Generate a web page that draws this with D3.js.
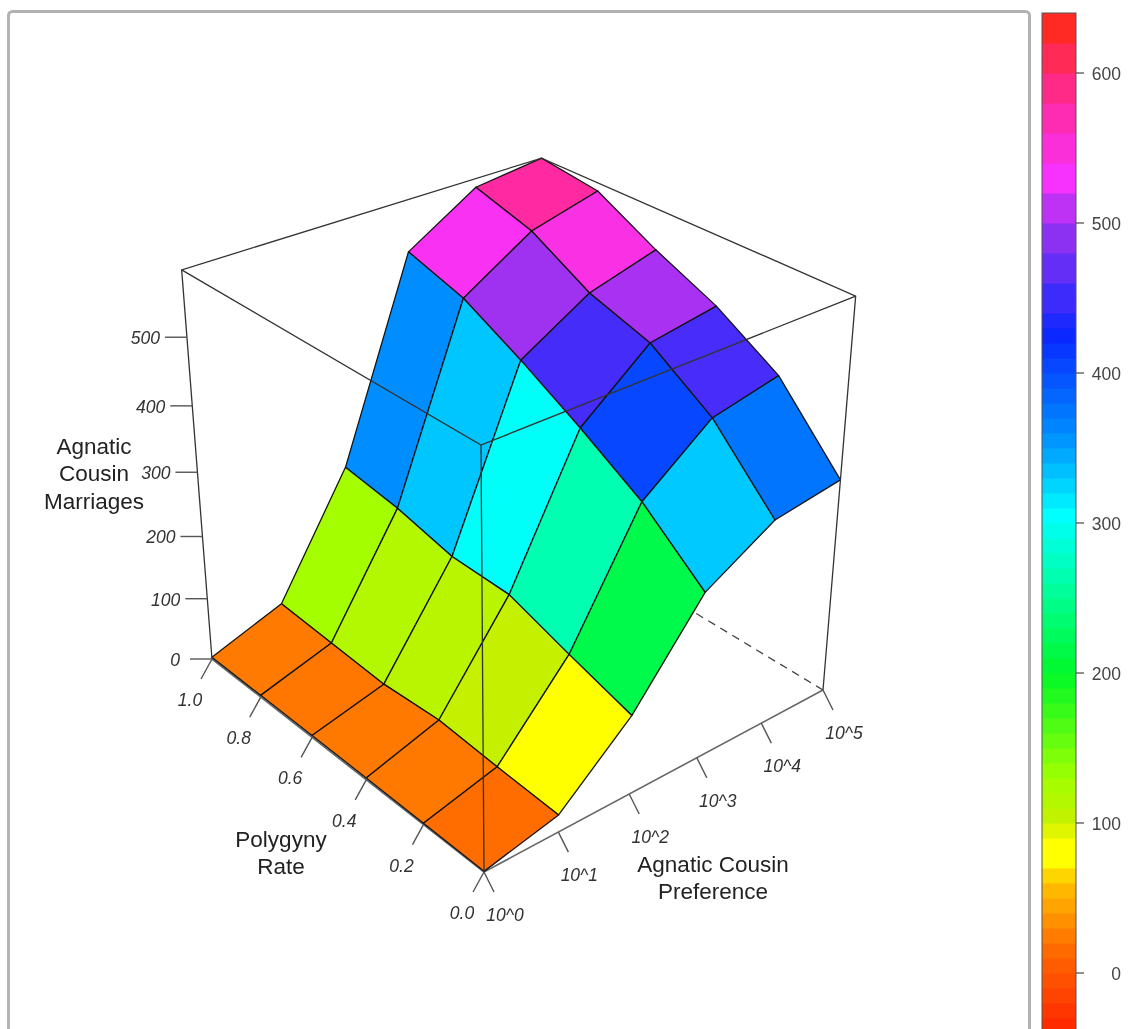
<!DOCTYPE html>
<html><head><meta charset="utf-8">
<script src="https://cdn.jsdelivr.net/npm/d3@7"></script>
<style>html,body{margin:0;padding:0;background:#fff;overflow:hidden}svg{display:block;font-family:"Liberation Sans",Arial,sans-serif;filter:blur(0.4px)}</style>
</head><body><svg id="c" width="1128" height="1029"></svg>
<script>
// ---- data ----
const preferenceLabels = ["10^0","10^1","10^2","10^3","10^4","10^5"];
const polygynyLabels = ["0.0","0.2","0.4","0.6","0.8","1.0"];
const marriageTicks = [0,100,200,300,400,500];
const colorbarTicks = [0,100,200,300,400,500,600];
// Agnatic cousin marriages at polygyny 0.0, 0.2 ... 1.0, per preference level
const marriagesPref0 = [1,2,3,3,3,3];
const marriagesPref1 = [27,32,39,32,37,42];
const marriagesPref2 = [123,153,185,187,208,221];
const marriagesPref3 = [257,335,392,444,491,518];
const marriagesPref4 = [317,415,477,506,556,582];
const marriagesPref5 = [332,437,494,535,583,595];
const marriages = [marriagesPref0,marriagesPref1,marriagesPref2,marriagesPref3,marriagesPref4,marriagesPref5];
const colorStops = [-40,0,10,15,19,25,40,60,75,88,100,130,200,250,305,360,425,500,530,580,640];
const colorValues = ["#ff2400","#ff5500","#ff6000","#ff6a00","#ff7800","#ff7c00","#ff9a00","#ffc000","#ffff00","#ffff00","#c8f000","#a0ff00","#00f828","#00ff90","#00ffff","#008cff","#0a28ff","#a032f0","#f732ff","#ff2aa0","#ff2a0a"];

// ---- scales ----
const svg = d3.select("#c");
const uScale = d3.scalePoint().domain(d3.range(6)).range([0,1]);
const vScale = d3.scalePoint().domain(d3.range(6)).range([0,1]);
const zScale = d3.scaleLinear().domain([0,595]).range([0,1]);
const rawColor = d3.scaleLinear().domain(colorStops).range(colorValues).interpolate(d3.interpolateRgb);
const keyStep = 10;
const keyColor = v => v >= 440 ? rawColor(Math.floor(v/20)*20 + 10) : rawColor(v + keyStep/2);

// perspective camera: homography of the unit box
const O = [484,872], EX = [823,690], EY = [212,659], EZ = [481,445];
const wx = 1.124, wy = 1.145, wz = 0.894;
const cam = {
  o:[O[0],O[1],1],
  x:[wx*EX[0]-O[0], wx*EX[1]-O[1], wx-1],
  y:[wy*EY[0]-O[0], wy*EY[1]-O[1], wy-1],
  z:[wz*EZ[0]-O[0], wz*EZ[1]-O[1], wz-1]
};
function project(u,v,w){
  const h = [0,1,2].map(k => cam.o[k]+u*cam.x[k]+v*cam.y[k]+w*cam.z[k]);
  return [h[0]/h[2], h[1]/h[2]];
}
const pt = (i,j) => project(uScale(i), vScale(j), zScale(marriages[i][j]));
const line = d3.line();

// ---- frame ----
svg.append("rect").attr("x",8.5).attr("y",11.5).attr("width",1021).attr("height",1060).attr("rx",4)
  .attr("fill","#fff").attr("stroke","#b2b2b2").attr("stroke-width",3);

// ---- hidden box edges ----
const boxG = svg.append("g").attr("fill","none").attr("stroke","#444").attr("stroke-width",1.3);
boxG.append("path").attr("d",line([project(1,0,0),project(1,1,0)])).attr("stroke-dasharray","8,6");
boxG.append("path").attr("d",line([project(0,1,0),project(1,1,0)])).attr("stroke-dasharray","8,6");
boxG.append("path").attr("d",line([project(1,1,0),project(1,1,1)])).attr("stroke-dasharray","8,6");

// ---- front base edges, drawn under the surface ----
const baseG = svg.append("g").attr("fill","none").attr("stroke","#666").attr("stroke-width",1.6);
baseG.append("path").attr("d",line([project(0,1,0),project(0,0,0),project(1,0,0)]));

// ---- surface, painted back to front ----
const cells = [];
for(let i=0;i<5;i++) for(let j=0;j<5;j++) cells.push({i,j,
  mean:d3.mean([marriages[i][j],marriages[i+1][j],marriages[i][j+1],marriages[i+1][j+1]])});
cells.sort((a,b)=>(b.i+b.j)-(a.i+a.j));
svg.append("g").selectAll("path").data(cells).join("path")
  .attr("d",c=>line([pt(c.i,c.j),pt(c.i+1,c.j),pt(c.i+1,c.j+1),pt(c.i,c.j+1)])+"Z")
  .attr("fill",c=>rawColor(c.mean))
  .attr("stroke","#141414").attr("stroke-width",1.3).attr("stroke-linejoin","round");

// ---- box edges in front of surface ----
const frontG = svg.append("g").attr("fill","none").attr("stroke","#333").attr("stroke-width",1.3);
frontG.append("path").attr("d",line([project(0,1,0),project(0,1,1),project(1,1,1),project(1,0,1),project(1,0,0)]));
frontG.append("path").attr("d",line([project(0,1,1),project(0,0,1),project(1,0,1)]));
frontG.append("path").attr("d",line([project(0,0,1),project(0,0,0)]));

// ---- axes ----
const tickFont = {size:17.5, fill:"#333"};
const axisG = svg.append("g");
function tickMark(a,dx,dy){
  axisG.append("line").attr("x1",a[0]).attr("y1",a[1]).attr("x2",a[0]+dx).attr("y2",a[1]+dy)
    .attr("stroke","#555").attr("stroke-width",1.4);
}
function tickText(x,y,s,anchor){
  axisG.append("text").attr("x",x).attr("y",y).attr("text-anchor",anchor).attr("dominant-baseline","central")
    .attr("font-size",tickFont.size).attr("font-style","italic").attr("fill",tickFont.fill).text(s);
}
polygynyLabels.forEach((s,j)=>{
  const a = project(0,vScale(j),0);
  tickMark(a,-11,20);
  tickText(a[0]-22,a[1]+41,s,"middle");
});
preferenceLabels.forEach((s,i)=>{
  const a = project(uScale(i),0,0);
  tickMark(a,10,20);
  tickText(a[0]+21,a[1]+43,s,"middle");
});
marriageTicks.forEach(t=>{
  const a = project(0,1,zScale(t));
  tickMark(a,-22,0);
  tickText(a[0]-(t===0?32:27),a[1]+1,String(t),"end");
});

// ---- axis titles ----
function title(x,y,lines){
  lines.forEach((s,k)=>svg.append("text").attr("x",x).attr("y",y+k*27.5).attr("text-anchor","middle")
    .attr("dominant-baseline","central").attr("font-size",22.5).attr("fill","#222").text(s));
}
title(94,446,["Agnatic","Cousin","Marriages"]);
title(281,839,["Polygyny","Rate"]);
title(713,864,["Agnatic Cousin","Preference"]);

// ---- colour key ----
const keyY = d3.scaleLinear().domain([0,600]).range([973,73]);
const keyBands = d3.range(-40,640,keyStep);
const keyG = svg.append("g");
keyG.selectAll("rect").data(keyBands).join("rect")
  .attr("x",1042).attr("width",34)
  .attr("y",v=>keyY(v+keyStep)).attr("height",v=>keyY(v)-keyY(v+keyStep)+0.5)
  .attr("fill",v=>keyColor(v));
keyG.append("rect").attr("x",1042).attr("y",keyY(640)).attr("width",34).attr("height",keyY(-40)-keyY(640))
  .attr("fill","none").attr("stroke","#555").attr("stroke-width",1);
colorbarTicks.forEach(t=>{
  keyG.append("line").attr("x1",1076).attr("x2",1084).attr("y1",keyY(t)).attr("y2",keyY(t)).attr("stroke","#555").attr("stroke-width",1.3);
  keyG.append("text").attr("x",1121).attr("y",keyY(t)+1).attr("text-anchor","end").attr("dominant-baseline","central")
    .attr("font-size",17.5).attr("fill","#444").text(t);
});
</script></body></html>
